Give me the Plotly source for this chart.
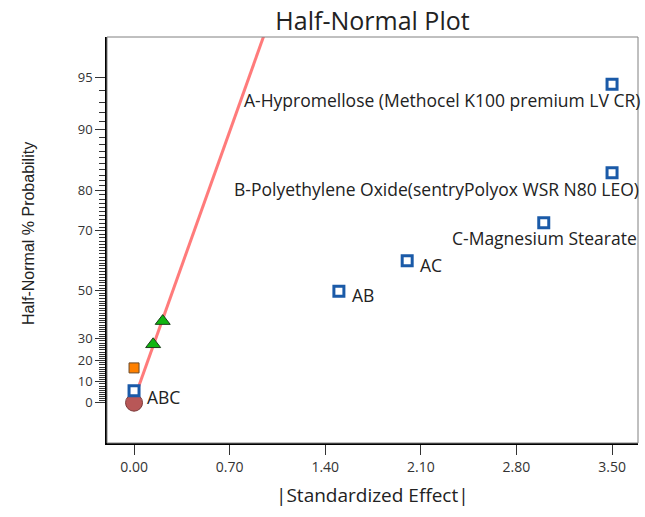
import plotly.graph_objects as go
from statistics import NormalDist

# ---------------- data ----------------
effect_names = ["A-Hypromellose (Methocel K100 premium LV CR)",
                "B-Polyethylene Oxide(sentryPolyox WSR N80 LEO)",
                "C-Magnesium Stearate", "AC", "AB", "ABC"]
effect_abs = [3.50, 3.50, 3.00, 2.00, 1.50, 0.00]
effect_prob = [94.5, 83.4, 72.2, 60.8, 49.8, 5.7]

error_abs = [0.14, 0.21]
error_prob = [27.5, 37.7]

orange_abs = [0.0]
orange_prob = [16.6]

circle_abs = [0.0]
circle_prob = [0.0]

line_abs = [0.03, 1.0]
line_prob = [7.1, 98.0]

x_ticks = [0.00, 0.70, 1.40, 2.10, 2.80, 3.50]
y_tick_labels = [0, 10, 20, 30, 50, 70, 80, 90, 95]
y_minor_labels = [v for v in range(1, 95) if v not in y_tick_labels]

# half-normal probability scale
_nd = NormalDist()
def hn(p):
    return _nd.inv_cdf((1 + p / 100.0) / 2.0)

def hn_list(ps):
    return [hn(p) for p in ps]

FONT = "Open Sans"
TXT = "#222222"
W, H = 645, 517

fig = go.Figure()

fig.add_trace(go.Scatter(x=line_abs, y=hn_list(line_prob), mode="lines",
                         line=dict(color="#ff7b7b", width=3), hoverinfo="skip"))

fig.add_trace(go.Scatter(x=circle_abs, y=hn_list(circle_prob), mode="markers",
                         marker=dict(symbol="circle", size=17, color="#b85757",
                                     line=dict(color="#7d3b3b", width=1))))

fig.add_trace(go.Scatter(x=orange_abs, y=hn_list(orange_prob), mode="markers",
                         marker=dict(symbol="square", size=10, color="#ff8000",
                                     line=dict(color="#6b4a2a", width=1))))

fig.add_trace(go.Scatter(x=error_abs, y=hn_list(error_prob), mode="markers",
                         marker=dict(symbol="triangle-up", size=13, color="#11b511",
                                     line=dict(color="#1d3d1d", width=1))))

fig.add_trace(go.Scatter(x=effect_abs, y=hn_list(effect_prob), mode="markers",
                         marker=dict(symbol="square", size=10, color="white",
                                     line=dict(color="#1a5aa8", width=3))))

# labels
label_pos = {
    "A-Hypromellose (Methocel K100 premium LV CR)": ("right", 30, -16),
    "B-Polyethylene Oxide(sentryPolyox WSR N80 LEO)": ("right", 29, -16),
    "C-Magnesium Stearate": ("right", 95, -15),
    "AC": ("left", 11, -4),
    "AB": ("left", 11, -4),
    "ABC": ("left", 11, -6),
}
for name, xv, pv in zip(effect_names, effect_abs, effect_prob):
    anc, xs, ys = label_pos[name]
    fig.add_annotation(x=xv, y=hn(pv), xref="x", yref="y", text=name,
                       showarrow=False, xanchor=anc, yanchor="middle",
                       xshift=xs, yshift=ys,
                       font=dict(family=FONT, size=17.5, color=TXT))

# axis titles
fig.add_annotation(text="|Standardized Effect|", xref="paper", yref="paper",
                   x=0.5, y=-(495 - 443) / 406, xanchor="center", yanchor="middle",
                   showarrow=False, font=dict(family=FONT, size=19, color=TXT))
fig.add_annotation(text="Half-Normal % Probability", xref="paper", yref="paper",
                   x=-(107 - 28) / 531, y=(443 - 234) / 406, xanchor="center",
                   yanchor="middle", textangle=-90, showarrow=False,
                   font=dict(family="Liberation Sans", size=16, color=TXT))

fig.add_shape(type="rect", xref="paper", yref="paper", x0=0, y0=0, x1=1, y1=1,
              line=dict(color="#808080", width=1), layer="above")

fig.update_layout(
    width=W, height=H,
    margin=dict(l=107, r=7, t=37, b=74),
    paper_bgcolor="white", plot_bgcolor="white",
    showlegend=False,
    title=dict(text="Half-Normal Plot", x=0.5, xref="paper", xanchor="center",
               y=1 - 21 / H, yanchor="middle", yref="container",
               font=dict(family=FONT, size=25, color=TXT)),
    xaxis=dict(range=[-0.198, 3.69], tickvals=x_ticks,
               ticktext=[f"{v:.2f}" for v in x_ticks], automargin=False,
               showgrid=False, zeroline=False, showline=True,
               linecolor="black", linewidth=1.5,
               ticks="outside", ticklen=10, tickcolor="#333", tickwidth=1.2,
               tickfont=dict(family=FONT, size=14, color="#333")),
    yaxis=dict(range=[-0.243, 2.204], tickvals=hn_list(y_tick_labels),
               ticktext=[str(v) for v in y_tick_labels], automargin=False,
               showgrid=False, zeroline=False, showline=True,
               linecolor="black", linewidth=1.5,
               ticks="outside", ticklen=10, tickcolor="#333", tickwidth=1.2,
               tickfont=dict(family=FONT, size=13, color="#333"),
               minor=dict(tickvals=hn_list(y_minor_labels), ticks="outside",
                          ticklen=6, tickcolor="#333", tickwidth=1, showgrid=False)),
)

fig.write_html("out.html", config={"displayModeBar": False},
               post_script="document.body.style.margin='0';document.body.style.padding='0';")
